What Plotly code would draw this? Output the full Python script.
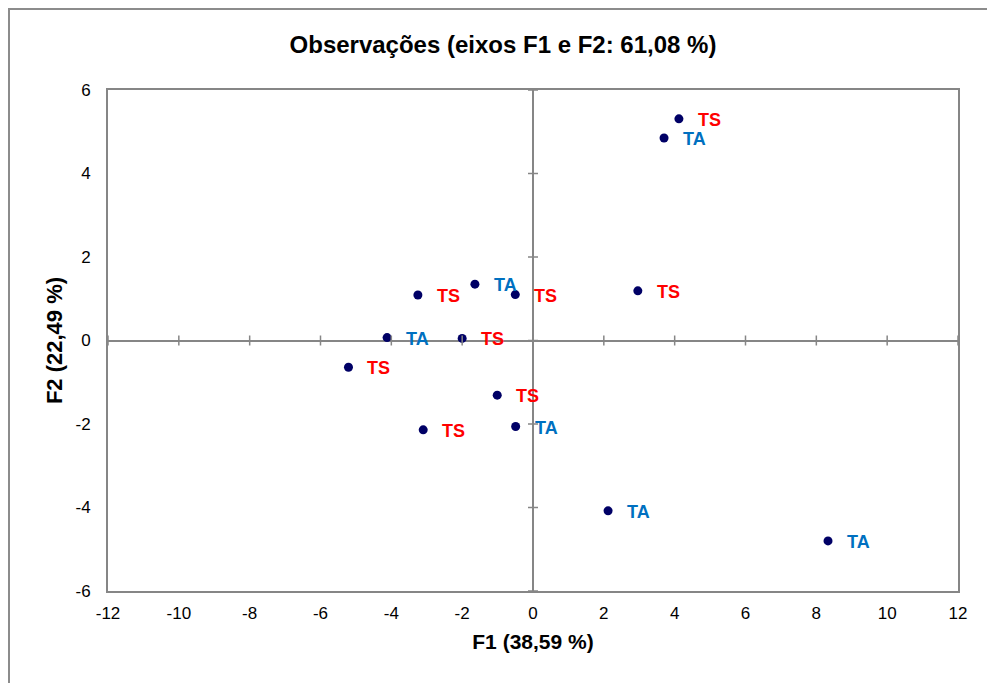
import plotly.graph_objects as go

# Data
f1 = [4.12, 3.70, 2.96, -3.25, -1.64, -0.50, -4.12, -2.00, -5.21, -1.01, -3.10, -0.49, 2.12, 8.33]
f2 = [5.31, 4.85, 1.19, 1.09, 1.35, 1.10, 0.07, 0.05, -0.64, -1.31, -2.14, -2.06, -4.08, -4.80]
labels = ["TS", "TA", "TS", "TS", "TA", "TS", "TA", "TS", "TS", "TS", "TS", "TA", "TA", "TA"]

x_ticks = list(range(-12, 13, 2))
y_ticks = list(range(-6, 7, 2))

label_colors = {"TS": "#FF0000", "TA": "#0070C0"}
FONT = "Arial, Liberation Sans, sans-serif"
GRAY = "#868686"

fig = go.Figure()
fig.add_trace(go.Scatter(
    x=f1, y=f2, mode="markers",
    marker=dict(color="#000066", size=9),
    hoverinfo="x+y", showlegend=False,
))

annotations = []
for x, y, lab in zip(f1, f2, labels):
    annotations.append(dict(
        x=x, y=y, xref="x", yref="y", text="<b>%s</b>" % lab,
        showarrow=False, xanchor="left", yanchor="middle", xshift=17, yshift=-1,
        font=dict(family=FONT, size=18, color=label_colors[lab]),
    ))

shapes = []
# tick marks crossing the zero lines
for t in x_ticks:
    shapes.append(dict(type="line", xref="x", yref="y", x0=t, x1=t,
                       ysizemode="pixel", yanchor=0, y0=-5, y1=5,
                       line=dict(color=GRAY, width=1.5)))
for t in y_ticks:
    shapes.append(dict(type="line", xref="x", yref="y", y0=t, y1=t,
                       xsizemode="pixel", xanchor=0, x0=-5, x1=5,
                       line=dict(color=GRAY, width=1.5)))
# outer chart border
shapes.append(dict(type="rect", xref="paper", yref="paper",
                   x0=(9 - 108) / 850, x1=1.06, y0=-0.25, y1=(591 - 9) / 501,
                   line=dict(color="#8C8C8C", width=2), layer="below"))

fig.update_layout(
    width=987, height=683,
    margin=dict(l=108, r=29, t=90, b=92),
    paper_bgcolor="white", plot_bgcolor="white",
    font=dict(family=FONT, size=17, color="black"),
    title=dict(text="<b>Observações (eixos F1 e F2: 61,08 %)</b>",
               x=503 / 987, xref="container", xanchor="center",
               y=1 - 45 / 683, yref="container", yanchor="middle",
               font=dict(family=FONT, size=24, color="black")),
    xaxis=dict(range=[-12, 12], tickvals=x_ticks, ticktext=[str(t) for t in x_ticks],
               ticks="", showgrid=False,
               zeroline=True, zerolinecolor=GRAY, zerolinewidth=1.5,
               showline=True, mirror=True, linecolor=GRAY, linewidth=2,
               tickfont=dict(size=17), ticklabelstandoff=6,
               title=dict(text="<b>F1 (38,59 %)</b>", font=dict(size=21), standoff=12)),
    yaxis=dict(range=[-6, 6], tickvals=y_ticks, ticktext=[str(t) for t in y_ticks],
               ticks="", showgrid=False,
               zeroline=True, zerolinecolor=GRAY, zerolinewidth=1.5,
               showline=True, mirror=True, linecolor=GRAY, linewidth=2,
               tickfont=dict(size=17), ticklabelstandoff=12,
               title=dict(text="<b>F2 (22,49 %)</b>", font=dict(size=22), standoff=7)),
    annotations=annotations,
    shapes=shapes,
)

fig.write_html("out.html")
